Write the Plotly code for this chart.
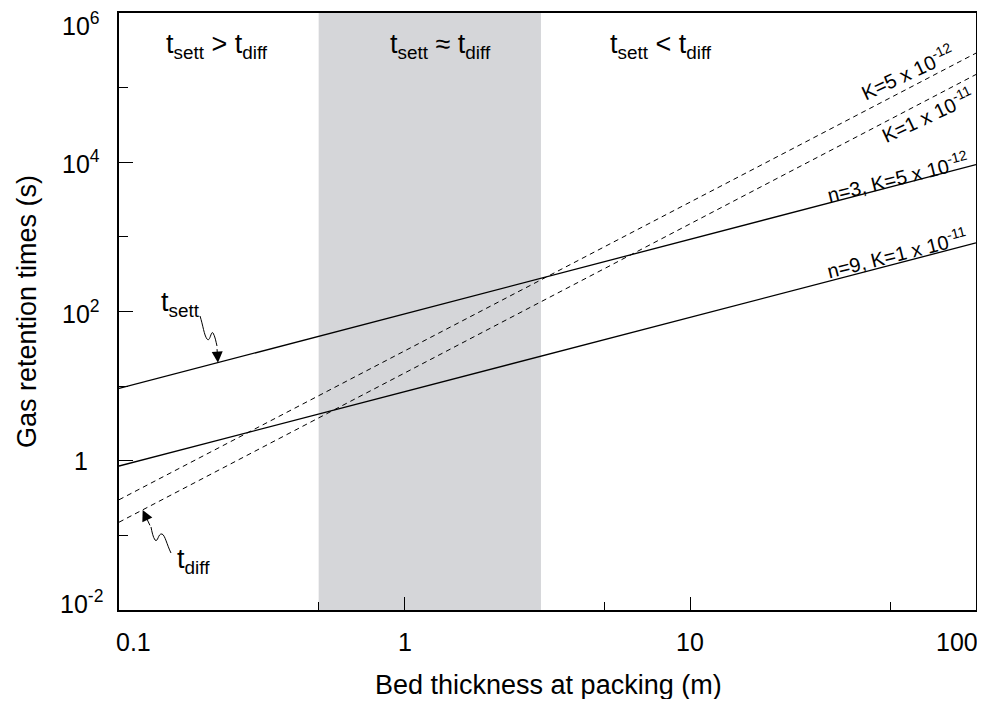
import math
import plotly.graph_objects as go

# ---------------- data ----------------
bed_thickness = [0.1, 100]                 # m
t_sett_n3_K5e12 = [9.3, 9300]              # s, solid
t_sett_n9_K1e11 = [0.85, 830]              # s, solid
t_diff_K5e12 = [0.30, 2.9e5]               # s, dashed
t_diff_K1e11 = [0.15, 1.5e5]               # s, dashed

shade_range = [0.5, 3.0]                   # t_sett ~ t_diff band

x_tickvals = [0.1, 1, 10, 100]
x_ticktext = ["0.1", "1", "10", "100"]
x_minor = [0.5, 5, 50]
y_tickvals = [1e-2, 1, 1e2, 1e4, 1e6]
y_ticktext = ["10<sup>-2</sup>", "1", "10<sup>2</sup>", "10<sup>4</sup>", "10<sup>6</sup>"]
y_minor = [1e-1, 1e1, 1e3, 1e5]

region_labels = ["t<sub>sett</sub> > t<sub>diff</sub>",
                 "t<sub>sett</sub> ≈ t<sub>diff</sub>",
                 "t<sub>sett</sub> < t<sub>diff</sub>"]
region_label_x = [0.22, 1.34, 7.9]

FONT = "Liberation Sans, Arial, Helvetica, sans-serif"

# page has an 8px body margin; figure sized to fit the window
OFF = 8
W, H = 985 - 2 * OFF, 707 - 2 * OFF
# target plot area on screen
SL, SR, ST, SB = 119, 976, 13, 610
L, R, T, B = SL - OFF, W - (SR - OFF), ST - OFF, H - (SB - OFF)
PW, PH = SR - SL, SB - ST


def px(sx, sy):
    """screen pixel -> paper coords (decorations only)"""
    return (sx - SL) / PW, (SB - sy) / PH


fig = go.Figure()

fig.add_shape(type="rect", xref="x", yref="paper",
              x0=shade_range[0], x1=shade_range[1],
              y0=0, y1=1, fillcolor="#d5d6d9", line_width=0, layer="below")

solid = dict(color="black", width=1.3)
dashed = dict(color="black", width=1, dash="5px,4px")
fig.add_trace(go.Scatter(x=bed_thickness, y=t_sett_n3_K5e12, mode="lines", line=solid))
fig.add_trace(go.Scatter(x=bed_thickness, y=t_sett_n9_K1e11, mode="lines", line=solid))
fig.add_trace(go.Scatter(x=bed_thickness, y=t_diff_K5e12, mode="lines", line=dashed))
fig.add_trace(go.Scatter(x=bed_thickness, y=t_diff_K1e11, mode="lines", line=dashed))

TF = dict(size=25, color="black", family=FONT)
C = dict(xanchor="center", yanchor="middle", showarrow=False)

# tick labels (as annotations so end labels can sit inside like the original)
x_shift = {0.1: 14, 100: -19}
for v, t in zip(x_tickvals, x_ticktext):
    fig.add_annotation(x=math.log10(v), y=0, xref="x", yref="paper", text=t, showarrow=False,
                       xanchor="center", yanchor="top", yshift=-16, xshift=x_shift.get(v, 0),
                       font=TF)
y_shift = {1e6: -11, 1e-2: 8}
for v, t in zip(y_tickvals, y_ticktext):
    fig.add_annotation(x=0, y=math.log10(v), xref="paper", yref="y", text=t,
                       xshift=-38, yshift=y_shift.get(v, 0), font=TF, **C)

# region labels
for txt, xv in zip(region_labels, region_label_x):
    fig.add_annotation(x=math.log10(xv), y=px(0, 46)[1], xref="x", yref="paper",
                       text=txt, font=dict(size=27, color="black", family=FONT), **C)

# line labels
line_labels = [
    ("K=5 x 10<sup>-12</sup>", 907, 71, -25),
    ("K=1 x 10<sup>-11</sup>", 927, 115, -25),
    ("n=3, K=5 x 10<sup>-12</sup>", 897, 176, -14),
    ("n=9, K=1 x 10<sup>-11</sup>", 897, 253, -14),
]
for txt, sx, sy, ang in line_labels:
    xx, yy = px(sx, sy)
    fig.add_annotation(x=xx, y=yy, xref="paper", yref="paper", text=txt, textangle=ang,
                       font=dict(size=20, color="black", family=FONT), **C)

# t_sett callout
xx, yy = px(180, 304)
fig.add_annotation(x=xx, y=yy, xref="paper", yref="paper", text="t<sub>sett</sub>",
                   font=dict(size=27, color="black", family=FONT), **C)


def pathstr(pts):
    p = [px(*q) for q in pts]
    s = "M %f %f " % p[0]
    for i in range(1, len(p) - 2, 3):
        s += "C %f %f %f %f %f %f " % (p[i] + p[i + 1] + p[i + 2])
    return s


sq1 = [(200, 316), (203, 325), (204, 335), (207, 339), (210, 343), (211, 330), (213, 333),
       (215, 336), (216, 342), (217, 346)]
fig.add_shape(type="path", xref="paper", yref="paper", path=pathstr(sq1),
              line=dict(color="black", width=1))
tip_h = 0.222
fig.add_annotation(x=math.log10(tip_h), y=math.log10(93 * tip_h), xref="x", yref="y",
                   ax=-1, ay=-15, text="", showarrow=True, arrowhead=2, arrowsize=2.2,
                   arrowwidth=1, arrowcolor="black")

# t_diff callout
xx, yy = px(193, 561)
fig.add_annotation(x=xx, y=yy, xref="paper", yref="paper", text="t<sub>diff</sub>",
                   font=dict(size=27, color="black", family=FONT), **C)
sq2 = [(171, 553), (167, 545), (165, 535), (162, 534), (158, 533), (158, 543), (155, 540),
       (153, 537), (152, 532), (151, 527)]
fig.add_shape(type="path", xref="paper", yref="paper", path=pathstr(sq2),
              line=dict(color="black", width=1))
tip2 = 0.121
fig.add_annotation(x=math.log10(tip2), y=math.log10(15 * tip2 ** 2), xref="x", yref="y",
                   ax=8, ay=17, text="", showarrow=True, arrowhead=2, arrowsize=2.2,
                   arrowwidth=1, arrowcolor="black")

fig.update_xaxes(type="log", range=[-1, 2], tickmode="array", tickvals=x_tickvals,
                 showticklabels=False, ticks="inside", ticklen=13, tickwidth=1, tickcolor="black",
                 minor=dict(tickvals=x_minor, ticks="inside", ticklen=8, tickwidth=1, tickcolor="black"),
                 showgrid=False, zeroline=False, showline=True, linecolor="black", linewidth=1.5,
                 mirror=True)
fig.update_yaxes(type="log", range=[-2, 6], tickmode="array", tickvals=y_tickvals,
                 showticklabels=False, ticks="inside", ticklen=14, tickwidth=1, tickcolor="black",
                 minor=dict(tickvals=y_minor, ticks="inside", ticklen=9, tickwidth=1, tickcolor="black"),
                 showgrid=False, zeroline=False, showline=True, linecolor="black", linewidth=1.5,
                 mirror=True)

# axis titles
fig.add_annotation(x=px(548, 0)[0], y=px(0, 685)[1], xref="paper", yref="paper",
                   text="Bed thickness at packing (m)",
                   font=dict(size=27, color="black", family=FONT), **C)
fig.add_annotation(x=px(27, 0)[0], y=px(0, 312)[1], xref="paper", yref="paper",
                   text="Gas retention times (s)", textangle=-90,
                   font=dict(size=27, color="black", family=FONT), **C)

fig.update_layout(width=W, height=H, margin=dict(l=L, r=R, t=T, b=B, autoexpand=False),
                  plot_bgcolor="white", paper_bgcolor="white", showlegend=False,
                  font=dict(family=FONT, color="black"))

fig.write_html("out.html")
